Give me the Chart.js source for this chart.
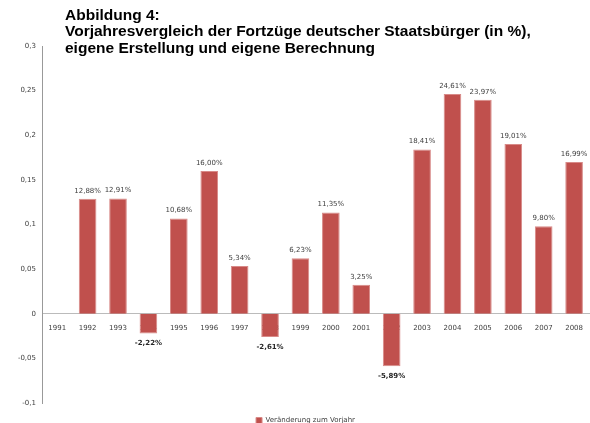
<!DOCTYPE html>
<html>
<head>
<meta charset="utf-8">
<script src="https://cdn.jsdelivr.net/npm/chart.js@4"></script>
<style>
  html, body { margin: 0; padding: 0; background: #fff; width: 590px; height: 423px; overflow: hidden; }
  #wrap { position: relative; width: 593px; height: 434px; }
  #title { position: absolute; left: 65px; top: 7px; font-family: "Liberation Sans", Arial, sans-serif; font-weight: bold; font-size: 15.5px; line-height: 16.3px; color: #000; white-space: nowrap; z-index: 2; }
  canvas { position: absolute; left: 0; top: 0; }
</style>
</head>
<body>
<div id="wrap">
  <div id="title">Abbildung 4:<br>Vorjahresvergleich der Fortzüge deutscher Staatsbürger (in %),<br>eigene Erstellung und eigene Berechnung</div>
  <canvas id="c" width="593" height="434"></canvas>
</div>
<script>
const years = ["1991","1992","1993","1994","1995","1996","1997","1998","1999","2000","2001","2002","2003","2004","2005","2006","2007","2008"];
const changeVsPrevYear = [null, 0.1288, 0.1291, -0.0222, 0.1068, 0.1600, 0.0534, -0.0261, 0.0623, 0.1135, 0.0325, -0.0589, 0.1841, 0.2461, 0.2397, 0.1901, 0.0980, 0.1699];
const seriesLabel = "Veränderung zum Vorjahr";
const yMin = -0.1, yMax = 0.3, yStep = 0.05;

const fmtTick = v => {
  const r = Math.round(v * 100) / 100;
  return String(r).replace('.', ',');
};
const fmtPct = v => (v * 100).toFixed(2).replace('.', ',') + '%';

const barLabels = {
  id: 'barLabels',
  afterDatasetsDraw(chart) {
    const ctx = chart.ctx;
    const meta = chart.getDatasetMeta(0);
    const data = chart.data.datasets[0].data;
    ctx.save();
    ctx.textAlign = 'center';
    ctx.textBaseline = 'middle';
    meta.data.forEach((bar, i) => {
      const v = data[i];
      if (v === null || v === undefined) return;
      if (v >= 0) {
        ctx.font = '7px "DejaVu Sans"';
        ctx.fillStyle = '#404040';
        ctx.fillText(fmtPct(v), bar.x, bar.y - 8);
      } else {
        ctx.font = 'bold 7px "DejaVu Sans"';
        ctx.fillStyle = '#262626';
        ctx.fillText(fmtPct(v), bar.x, bar.y + 10);
      }
    });
    ctx.restore();
  }
};

new Chart(document.getElementById('c'), {
  type: 'bar',
  data: {
    labels: years,
    datasets: [{
      label: seriesLabel,
      data: changeVsPrevYear,
      backgroundColor: '#C0504D',
      borderColor: '#D88A88',
      borderWidth: 1,
      borderSkipped: 'bottom',
      categoryPercentage: 1,
      barPercentage: 0.58
    }]
  },
  options: {
    responsive: false,
    animation: false,
    devicePixelRatio: 1,
    layout: { padding: { top: 46, left: 18, right: 0, bottom: 0 } },
    plugins: {
      legend: {
        position: 'bottom',
        labels: {
          boxWidth: 6, boxHeight: 6, padding: 14,
          font: { family: 'DejaVu Sans', size: 7 },
          color: '#404040'
        }
      },
      tooltip: { enabled: false },
      title: { display: false }
    },
    scales: {
      x: {
        type: 'category',
        position: { y: 0 },
        offset: true,
        z: 1,
        grid: { display: false, drawTicks: false },
        border: { display: true, color: '#BBBBBB', width: 1 },
        ticks: {
          font: { family: 'DejaVu Sans', size: 7 },
          color: '#404040',
          padding: 10,
          maxRotation: 0,
          autoSkip: false
        }
      },
      y: {
        min: yMin, max: yMax,
        grid: { display: false, drawTicks: false },
        border: { display: true, color: '#999999', width: 1 },
        afterFit(scale) { scale.width = 24; },
        ticks: {
          stepSize: yStep,
          font: { family: 'DejaVu Sans', size: 7 },
          color: '#404040',
          padding: 6,
          callback: v => fmtTick(v)
        }
      }
    }
  },
  plugins: [barLabels]
});
</script>
</body>
</html>
